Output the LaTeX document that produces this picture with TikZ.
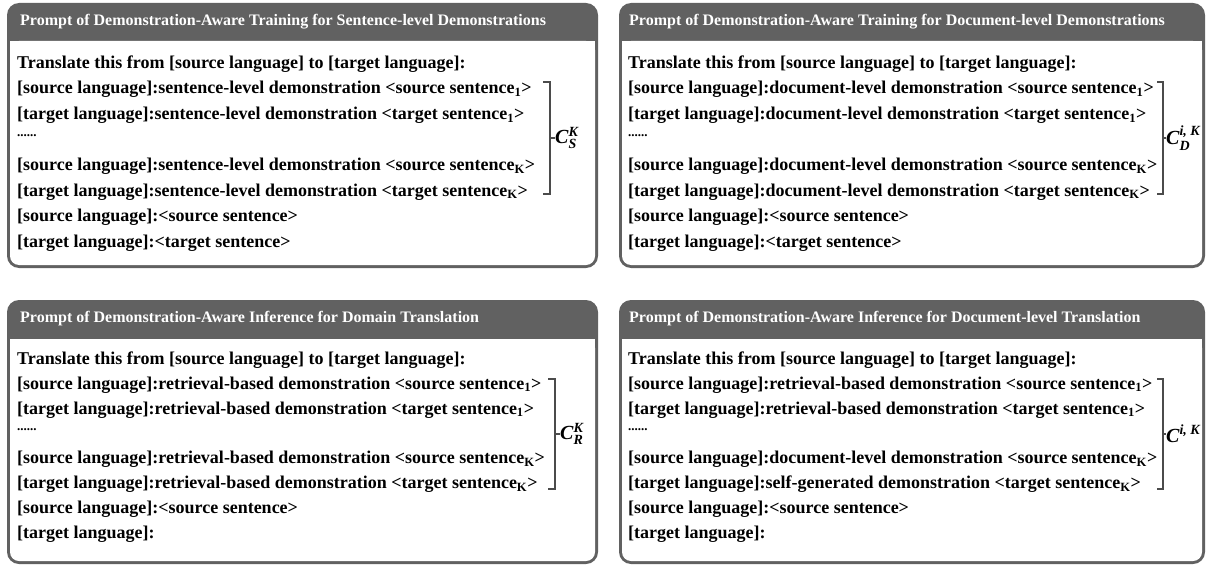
\documentclass[tikz,border=0pt]{standalone}
\usepackage{fontspec}
\setmainfont{Liberation Serif}
\usepackage{amsmath}
\usepackage{tikz}
\usetikzlibrary{positioning}
\definecolor{hdrgray}{RGB}{97,97,97}
\definecolor{brgray}{RGB}{75,75,75}
\tikzstyle{headtext} = [anchor=west, inner sep=0pt, text=white, font=\fontsize{16}{18}\selectfont\bfseries]
\tikzstyle{prompt} = [anchor=west, inner sep=0pt, text height=13pt, text depth=4pt, font=\fontsize{18}{20}\selectfont\bfseries]
\tikzstyle{dots} = [prompt, font=\fontsize{13}{13}\selectfont\bfseries]
\tikzstyle{bracket} = [draw=brgray, line width=1.6pt]
\tikzstyle{setlabel} = [anchor=west, inner sep=0pt, font=\fontsize{20}{22}\selectfont\bfseries]

\begin{document}
\begin{tikzpicture}[x=1pt, y=-1pt]
\useasboundingbox (0,0) rectangle (1210,567);

\fill [hdrgray, rounded corners=12pt] (7,3) rectangle (598,268);
\fill [white, rounded corners=9pt] (10,41) rectangle (595,265);
\fill [white] (10,41) rectangle (595,60);
\fill [hdrgray, rounded corners=12pt] (619,3) rectangle (1205,268);
\fill [white, rounded corners=9pt] (622,41) rectangle (1202,265);
\fill [white] (622,41) rectangle (1202,60);
\fill [hdrgray, rounded corners=12pt] (7,300) rectangle (598,564);
\fill [white, rounded corners=9pt] (10,339) rectangle (595,561);
\fill [white] (10,339) rectangle (595,358);
\fill [hdrgray, rounded corners=12pt] (619,300) rectangle (1205,564);
\fill [white, rounded corners=9pt] (622,339) rectangle (1202,561);
\fill [white] (622,339) rectangle (1202,358);

\node (heada) [headtext] at (20,22) {Prompt of Demonstration-Aware Training for Sentence-level Demonstrations};
\node (a1) [prompt] at (17,64) {Translate this from [source language] to [target language]:};
\node (a2) [prompt, below=25.5pt of a1.west, anchor=west] {[source language]:sentence-level demonstration <source sentence\textsubscript{1}>};
\node (a3) [prompt, below=25.5pt of a2.west, anchor=west] {[target language]:sentence-level demonstration <target sentence\textsubscript{1}>};
\node (a4) [dots, below=25.5pt of a3.west, anchor=west] {\raisebox{8pt}{......}};
\node (a5) [prompt, below=25.5pt of a4.west, anchor=west] {[source language]:sentence-level demonstration <source sentence\textsubscript{K}>};
\node (a6) [prompt, below=25.5pt of a5.west, anchor=west] {[target language]:sentence-level demonstration <target sentence\textsubscript{K}>};
\node (a7) [prompt, below=25.5pt of a6.west, anchor=west] {[source language]:<source sentence>};
\node (a8) [prompt, below=25.5pt of a7.west, anchor=west] {[target language]:<target sentence>};
\draw [bracket] (543,82) -- (550,82) -- (550,194) -- (543,194);
\coordinate (ma) at (550,138);
\node (seta) [setlabel, right=5pt of ma] {$\textit{C}^{\textit{K}}_{\textit{S}}$};
\draw [bracket] (ma) -- (seta.west);

\node (headb) [headtext] at (629,22) {Prompt of Demonstration-Aware Training for Document-level Demonstrations};
\node (b1) [prompt] at (628,64) {Translate this from [source language] to [target language]:};
\node (b2) [prompt, below=25.5pt of b1.west, anchor=west] {[source language]:document-level demonstration <source sentence\textsubscript{1}>};
\node (b3) [prompt, below=25.5pt of b2.west, anchor=west] {[target language]:document-level demonstration <target sentence\textsubscript{1}>};
\node (b4) [dots, below=25.5pt of b3.west, anchor=west] {\raisebox{8pt}{......}};
\node (b5) [prompt, below=25.5pt of b4.west, anchor=west] {[source language]:document-level demonstration <source sentence\textsubscript{K}>};
\node (b6) [prompt, below=25.5pt of b5.west, anchor=west] {[target language]:document-level demonstration <target sentence\textsubscript{K}>};
\node (b7) [prompt, below=25.5pt of b6.west, anchor=west] {[source language]:<source sentence>};
\node (b8) [prompt, below=25.5pt of b7.west, anchor=west] {[target language]:<target sentence>};
\draw [bracket] (1157,82) -- (1163,82) -- (1163,194) -- (1157,194);
\coordinate (mb) at (1163,138);
\node (setb) [setlabel, right=3pt of mb] {$\textit{C}^{\textit{i, K}}_{\textit{D}}$};
\draw [bracket] (mb) -- (setb.west);

\node (headc) [headtext] at (20,319) {Prompt of Demonstration-Aware Inference for Domain Translation};
\node (c1) [prompt] at (17,360) {Translate this from [source language] to [target language]:};
\node (c2) [prompt, below=24.8pt of c1.west, anchor=west] {[source language]:retrieval-based demonstration <source sentence\textsubscript{1}>};
\node (c3) [prompt, below=24.8pt of c2.west, anchor=west] {[target language]:retrieval-based demonstration <target sentence\textsubscript{1}>};
\node (c4) [dots, below=24.8pt of c3.west, anchor=west] {\raisebox{8pt}{......}};
\node (c5) [prompt, below=24.8pt of c4.west, anchor=west] {[source language]:retrieval-based demonstration <source sentence\textsubscript{K}>};
\node (c6) [prompt, below=24.8pt of c5.west, anchor=west] {[target language]:retrieval-based demonstration <target sentence\textsubscript{K}>};
\node (c7) [prompt, below=24.8pt of c6.west, anchor=west] {[source language]:<source sentence>};
\node (c8) [prompt, below=24.8pt of c7.west, anchor=west] {[target language]:};
\draw [bracket] (548,379) -- (555,379) -- (555,489) -- (548,489);
\coordinate (mc) at (555,434);
\node (setc) [setlabel, right=5pt of mc] {$\textit{C}^{\textit{K}}_{\textit{R}}$};
\draw [bracket] (mc) -- (setc.west);

\node (headd) [headtext] at (629,319) {Prompt of Demonstration-Aware Inference for Document-level Translation};
\node (d1) [prompt] at (628,360) {Translate this from [source language] to [target language]:};
\node (d2) [prompt, below=24.8pt of d1.west, anchor=west] {[source language]:retrieval-based demonstration <source sentence\textsubscript{1}>};
\node (d3) [prompt, below=24.8pt of d2.west, anchor=west] {[target language]:retrieval-based demonstration <target sentence\textsubscript{1}>};
\node (d4) [dots, below=24.8pt of d3.west, anchor=west] {\raisebox{8pt}{......}};
\node (d5) [prompt, below=24.8pt of d4.west, anchor=west] {[source language]:document-level demonstration <source sentence\textsubscript{K}>};
\node (d6) [prompt, below=24.8pt of d5.west, anchor=west] {[target language]:self-generated demonstration <target sentence\textsubscript{K}>};
\node (d7) [prompt, below=24.8pt of d6.west, anchor=west] {[source language]:<source sentence>};
\node (d8) [prompt, below=24.8pt of d7.west, anchor=west] {[target language]:};
\draw [bracket] (1157,379) -- (1163,379) -- (1163,489) -- (1157,489);
\coordinate (md) at (1163,434);
\node (setd) [setlabel, right=3pt of md] {$\textit{C}^{\textit{i, K}}$};
\draw [bracket] (md) -- (setd.west);
\end{tikzpicture}
\end{document}
